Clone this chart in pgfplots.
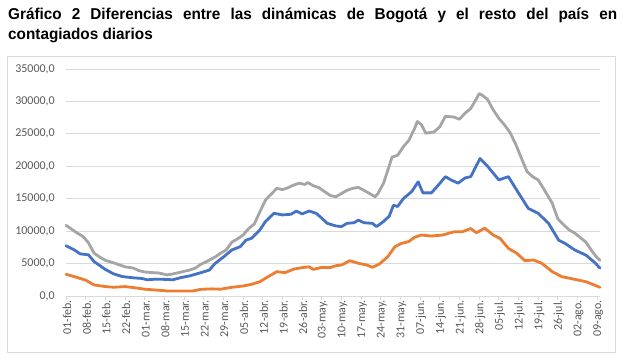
\documentclass[border=0pt]{standalone}
\usepackage{pgfplots}
\pgfplotsset{compat=1.18}
\usepackage{fontspec}
\setmainfont{Carlito}
\newfontfamily\titlefont[FakeStretch=0.975]{Liberation Sans}
\definecolor{cgray}{HTML}{A5A5A5}
\definecolor{cblue}{HTML}{4472C4}
\definecolor{corange}{HTML}{ED7D31}
\definecolor{gridc}{HTML}{D9D9D9}
\definecolor{textc}{HTML}{595959}
\begin{document}
\begin{tikzpicture}
\useasboundingbox (0,0) rectangle (625bp,360bp);
\draw[gridc, line width=0.75bp] (7bp,8bp) rectangle (615bp,304bp);
\node[anchor=north west, inner sep=0pt, text width=609bp, align=justify,
  font=\titlefont\bfseries\fontsize{15.7bp}{20bp}\selectfont] at (8bp,352bp)
  {Gráfico 2 Diferencias entre las dinámicas de Bogotá y el resto del país en\linebreak contagiados diarios};
\begin{axis}[
  at={(66bp,64bp)}, anchor=south west,
  scale only axis, width=534bp, height=227bp,
  xmin=0, xmax=190, ymin=0, ymax=35000,
  axis x line*=bottom, axis y line*=left,
  y axis line style={draw=none},
  x axis line style={gridc, line width=0.75bp},
  ytick={0,5000,...,35000},
  scaled y ticks=false,
  ytick style={draw=none},
  ymajorgrids, grid style={gridc, line width=0.75bp},
  xtick={0,7,...,189},
  xticklabels={01-feb.,08-feb.,15-feb.,22-feb.,01-mar.,08-mar.,15-mar.,22-mar.,29-mar.,05-abr.,12-abr.,19-abr.,26-abr.,03-may.,10-may.,17-may.,24-may.,31-may.,07-jun.,14-jun.,21-jun.,28-jun.,05-jul.,12-jul.,19-jul.,26-jul.,02-ago.,09-ago.},
  xtick align=outside, major tick length=4bp,
  xtick style={gridc, line width=0.75bp},
  ticklabel style={font=\fontsize{12bp}{14bp}\selectfont, text=textc},
  xticklabel style={rotate=90, anchor=east, inner sep=0pt, xshift=0bp, yshift=-1bp},
  yticklabel style={anchor=east, inner sep=0pt, xshift=-11bp},
  /pgf/number format/assume math mode=true,
  yticklabel={\pgfmathprintnumber[fixed, fixed zerofill, precision=1, use comma, 1000 sep={}]{\tick}},
  clip=false,
  every axis plot/.append style={line width=2.8bp, line join=round, line cap=round},
]
\addplot[cgray] coordinates {
(0,10900)(2,10300)(4,9700)(6,9200)(8,8200)(10,6600)(12,6000)(14,5500)(17,5100)(21,4500)
(24,4300)(26,3900)(28,3700)(31,3600)(33,3550)(36,3250)(38,3400)(41,3700)(44,4000)(46,4300)
(48,4900)(50,5300)(53,6000)(55,6600)(57,7100)(59,8300)(61,8800)(63,9400)(65,10400)(67,11100)
(69,13000)(71,14800)(73,15700)(75,16600)(77,16400)(79,16700)(81,17100)(83,17400)(85,17200)(86,17500)
(88,17000)(90,16700)(92,16100)(94,15500)(96,15300)(98,15800)(100,16300)(102,16600)(104,16750)(106,16300)
(108,15800)(110,15300)(111,15800)(113,17400)(114.5,19400)(116,21400)(118,21700)(120,23000)(122,24000)(124,25800)
(125,26900)(126.5,26400)(128,25100)(131,25300)(133,26100)(135,27700)(138,27600)(140,27250)(142,28200)(144,28900)
(146,30400)(147,31200)(148,31000)(150,30300)(152,28700)(154,27400)(156,26400)(158,25200)(160,23400)(162,21300)
(164,19200)(166,18400)(168,17900)(170,16500)(173,14300)(175,11900)(177,11000)(179,10200)(181,9700)(183,9000)
(185,8300)(187,7000)(189,5900)(190,5500)
};
\addplot[cblue] coordinates {
(0,7750)(3,7100)(5,6500)(8,6350)(10,5300)(12,4700)(14,4100)(17,3400)(20,3000)(24,2800)
(27,2700)(29,2500)(32,2600)(36,2550)(38,2500)(41,2850)(44,3100)(48,3600)(51,4000)(53,5000)
(56,6000)(59,7100)(62,7600)(64,8600)(66,8900)(69,10200)(71,11500)(74,12750)(77,12500)(80,12600)
(82,13100)(84,12650)(86.5,13100)(89,12750)(91,12000)(93,11200)(96,10800)(98,10700)(100,11200)(102.5,11300)
(104,11700)(106,11300)(109,11200)(110.5,10700)(113,11500)(115,12300)(116.5,14000)(118,13800)(120,15000)(123,16100)
(125.3,17600)(127,15900)(130,15900)(132,16850)(135,18400)(137,17900)(139.5,17400)(142,18200)(144,18400)(147.3,21200)
(150,20000)(154,17900)(157.4,18400)(160.4,16300)(164.5,13500)(168,12750)(171.7,11200)(175.3,8600)(177.6,8100)(181,7100)
(185,6300)(188,5200)(190,4300)
};
\addplot[corange] coordinates {
(0,3350)(4,2850)(7,2450)(10,1700)(14,1450)(17,1350)(21,1450)(24,1300)(28,1050)(32,920)
(36,780)(41,770)(45,770)(48,1030)(52,1100)(55,1050)(59,1340)(63,1540)(66,1800)(69,2200)
(72,3000)(75,3750)(78,3600)(81,4150)(84,4370)(86.5,4500)(88,4100)(91,4420)(94,4370)(96,4670)
(98,4780)(101,5440)(104,5050)(107,4780)(109,4420)(111.5,4930)(114.5,6060)(117,7600)(119.3,8100)(122,8400)
(124,9050)(126.4,9400)(130,9250)(134,9400)(138,9900)(141,9900)(144,10400)(146,9750)(149,10450)(152,9400)
(154.4,8900)(157.4,7350)(160.4,6580)(163.3,5440)(166.3,5550)(169.3,5040)(173,3750)(176.4,2980)(181,2570)(185,2200)
(190,1340)
};
\end{axis}
\end{tikzpicture}
\end{document}
